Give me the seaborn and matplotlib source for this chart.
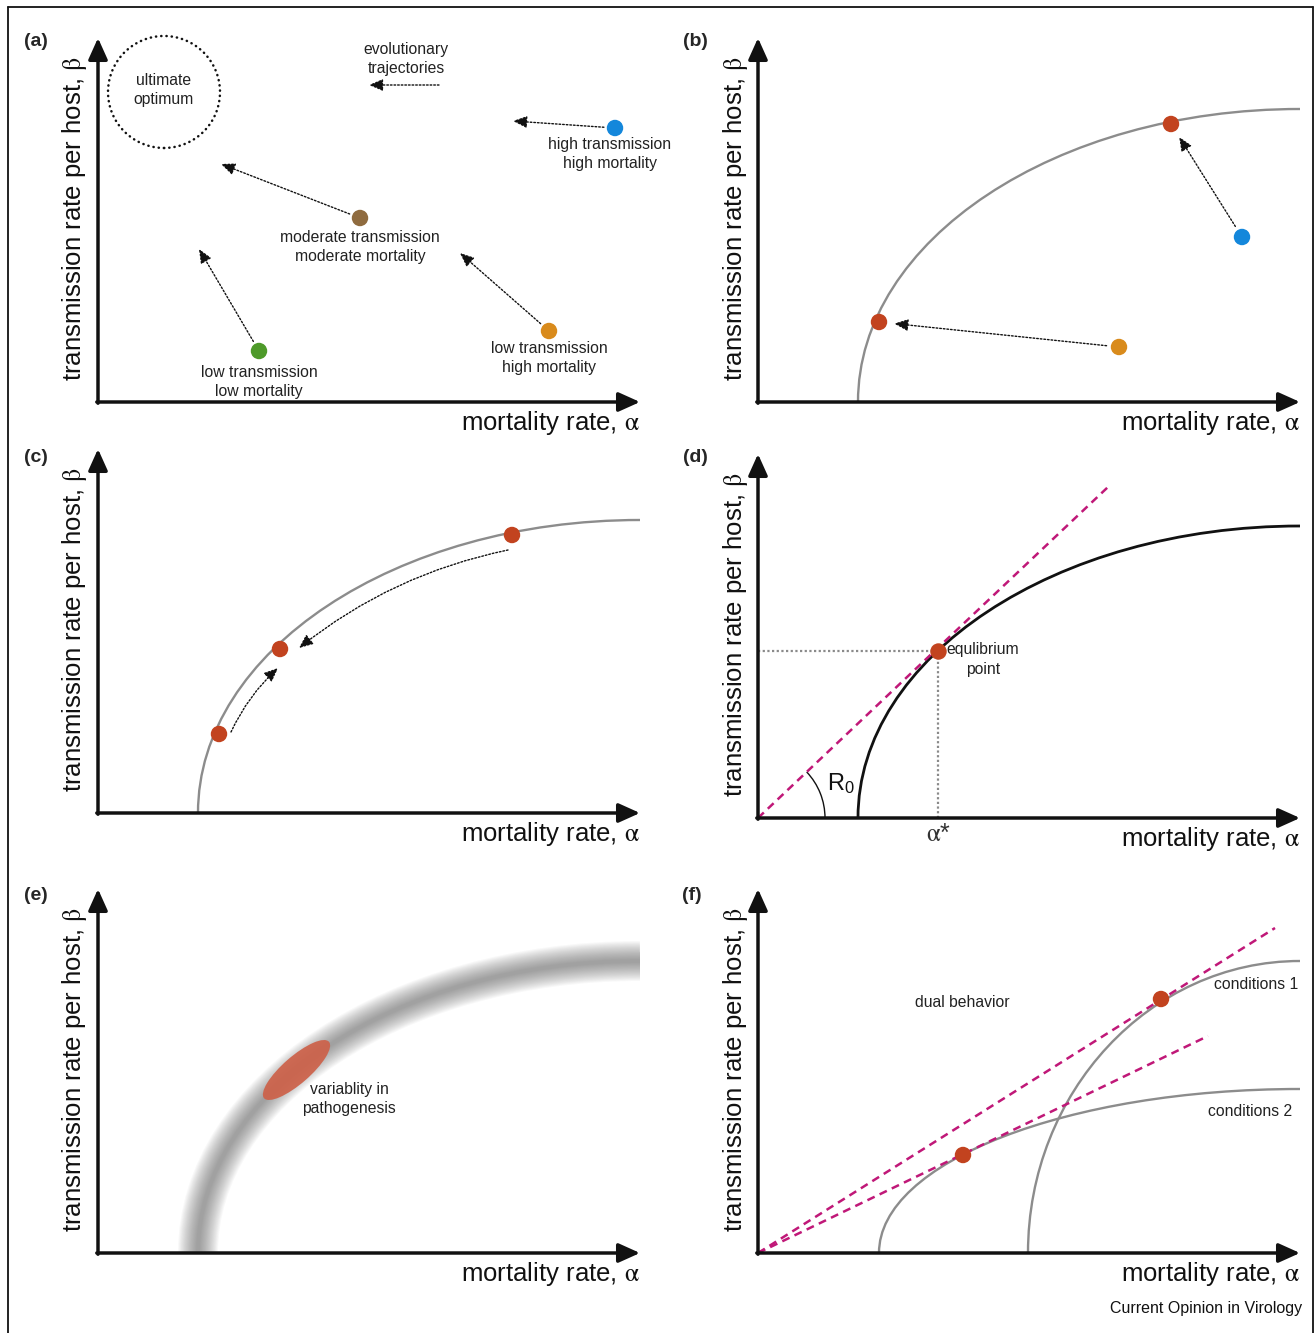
import numpy as np
import matplotlib.pyplot as plt
import seaborn as sns
from matplotlib.path import Path
from matplotlib.patches import PathPatch, Circle, Ellipse, Arc
from matplotlib.lines import Line2D

sns.set_theme(style='white')
plt.rcParams['font.family'] = ['Liberation Sans', 'DejaVu Sans']
plt.rcParams['mathtext.fontset'] = 'stix'

W, H = 1316, 1333

# ---- schematic values: mortality rate alpha (x) vs transmission beta (y) ----
# (a) starting strategies and the direction they evolve to
a_names = ['low transmission\nlow mortality', 'moderate transmission\nmoderate mortality',
           'low transmission\nhigh mortality', 'high transmission\nhigh mortality']
a_alpha = [1.61, 2.62, 4.51, 5.17]
a_beta = [0.51, 1.84, 0.71, 2.74]
a_to_alpha = [1.01, 1.23, 3.62, 4.15]
a_to_beta = [1.53, 2.38, 1.49, 2.81]
optimum_alpha, optimum_beta, optimum_r = 0.66, 3.10, 0.56

# trade-off curves (cubic bezier control points)
curve_main = [(1.00, 0.00), (1.00, 1.62), (2.98, 2.93), (5.42, 2.93)]
curve_d = [(1.00, 0.00), (1.00, 1.61), (2.98, 2.92), (5.42, 2.92)]
curve_f1 = [(2.70, 0.00), (2.70, 1.61), (3.92, 2.92), (5.42, 2.92)]
curve_f2 = [(1.21, 0.00), (1.21, 0.91), (3.10, 1.64), (5.42, 1.64)]

# (b) off-curve strains moving onto the curve
b_alpha = [4.84, 3.61]
b_beta = [1.65, 0.55]
b_end_alpha = [4.13, 1.21]
b_end_beta = [2.78, 0.80]

# (c) strains along the curve
c_alpha = [1.21, 1.82, 4.14]
c_beta = [0.79, 1.64, 2.78]

# (d) equilibrium and R0 line
d_eq_alpha, d_eq_beta = 1.80, 1.675
d_r0_alpha = [0.0, 3.50]
d_r0_beta = [0.0, 3.31]

# (e) variability patch
e_alpha, e_beta = 1.985, 1.83

# (f) two conditions
f_eq_alpha = [4.03, 2.05]
f_eq_beta = [2.54, 0.98]
f_r0_alpha = [[0.0, 5.17], [0.0, 4.50]]
f_r0_beta = [[0.0, 3.25], [0.0, 2.17]]

RED = '#c2431f'
MAG = '#c01878'
GREY = '#8c8c8c'
dot_cols = ['#4e9a2a', '#8f6b3f', '#d98b1c', '#1487db']

fig = plt.figure(figsize=(W / 100, H / 100), dpi=100)

origins = {'a': (98, 402), 'b': (758, 402), 'c': (98, 813),
           'd': (758, 818), 'e': (98, 1253), 'f': (758, 1253)}
tags = {'a': (36, 41), 'b': (695, 41), 'c': (36, 457),
        'd': (695, 457), 'e': (36, 895), 'f': (692, 895)}


def panel(key):
    x0, y0 = origins[key]
    ax = fig.add_axes([x0 / W, 1 - y0 / H, 542 / W, 364 / H])
    ax.set_xlim(0, 5.42)
    ax.set_ylim(0, 3.64)
    ax.axis('off')
    kw = dict(arrowstyle='-|>,head_length=1.0,head_width=0.45', lw=2.5, color='#111111',
              mutation_scale=13, shrinkA=0, shrinkB=0)
    ax.annotate('', xy=(5.42, 0), xytext=(-0.012, 0), arrowprops=kw, annotation_clip=False, zorder=5)
    ax.annotate('', xy=(0, 3.64), xytext=(0, -0.012), arrowprops=kw, annotation_clip=False, zorder=5)
    ax.text(-0.23, 1.83, r'transmission rate per host, $\mathrm{\beta}$', rotation=90, ha='center',
            va='center', fontsize=18.5, color='#111111')
    ax.text(5.42, -0.21, r'mortality rate, $\mathrm{\alpha}$', ha='right', va='center',
            fontsize=18.5, color='#111111')
    tx, ty = tags[key]
    fig.text(tx / W, 1 - ty / H, '(%s)' % key, fontsize=14, weight='bold', ha='center', va='center')
    return ax


def bezier(ax, pts, **kw):
    path = Path(pts, [Path.MOVETO, Path.CURVE4, Path.CURVE4, Path.CURVE4])
    ax.add_patch(PathPatch(path, fill=False, **kw))


def dotted_arrow(ax, start, end, rad=0.0):
    ax.annotate('', xy=end, xytext=start,
                arrowprops=dict(arrowstyle='-|>,head_length=0.7,head_width=0.3', mutation_scale=12,
                                lw=1.0, ls=(0, (1.2, 1.4)), color='#111111', shrinkA=0, shrinkB=0,
                                connectionstyle='arc3,rad=%s' % rad))


def dots(ax, x, y, cols):
    sns.scatterplot(x=x, y=y, hue=list(range(len(x))), palette=cols, s=140, linewidth=0,
                    legend=False, ax=ax, zorder=4, clip_on=False)


txt = dict(fontsize=11.3, ha='center', va='center', color='#222222', linespacing=1.35)

# ---------------- (a)
ax = panel('a')
ax.add_patch(Circle((optimum_alpha, optimum_beta), optimum_r, fill=False, lw=1.8,
                    ls=(0, (0.1, 2.0)), capstyle='round', color='#111111', clip_on=False))
ax.text(optimum_alpha, optimum_beta + 0.02, 'ultimate\noptimum', **txt)
ax.text(3.08, 3.43, 'evolutionary\ntrajectories', **txt)
dotted_arrow(ax, (3.41, 3.17), (2.71, 3.17))
for i in range(4):
    ax.annotate('', xy=(a_to_alpha[i], a_to_beta[i]), xytext=(a_alpha[i], a_beta[i]),
                arrowprops=dict(arrowstyle='-|>,head_length=0.7,head_width=0.3', mutation_scale=12,
                                lw=1.0, ls=(0, (1.2, 1.4)), color='#111111', shrinkA=8, shrinkB=0))
dots(ax, a_alpha, a_beta, dot_cols)
for name, x, y, dy in zip(a_names, a_alpha, a_beta, [0.31, 0.29, 0.27, 0.26]):
    ax.text(x + (0.0 if x < 5 else -0.05), y - dy, name, **txt)

# ---------------- (b)
ax = panel('b')
bezier(ax, curve_main, lw=1.7, edgecolor=GREY)
for sx, sy, ex, ey in zip(b_alpha, b_beta, b_end_alpha, b_end_beta):
    ax.annotate('', xy=(ex, ey), xytext=(sx, sy),
                arrowprops=dict(arrowstyle='-|>,head_length=0.7,head_width=0.3', mutation_scale=12,
                                lw=1.0, ls=(0, (1.2, 1.4)), color='#111111', shrinkA=9, shrinkB=11))
dots(ax, b_alpha, b_beta, ['#1487db', '#d98b1c'])
dots(ax, b_end_alpha, b_end_beta, [RED, RED])

# ---------------- (c)
ax = panel('c')
bezier(ax, curve_main, lw=1.7, edgecolor=GREY)
dotted_arrow(ax, (4.10, 2.63), (2.01, 1.65), rad=0.12)
dotted_arrow(ax, (1.33, 0.81), (1.80, 1.45), rad=-0.1)
dots(ax, c_alpha, c_beta, [RED] * 3)

# ---------------- (d)
ax = panel('d')
bezier(ax, curve_d, lw=2.0, edgecolor='#111111')
sns.lineplot(x=d_r0_alpha, y=d_r0_beta, color=MAG, lw=1.8, linestyle=(0, (3.2, 2.2)), ax=ax)
ax.plot([0, d_eq_alpha], [d_eq_beta, d_eq_beta], color='#8a8a8a', lw=1.6, ls=(0, (1, 1.1)))
ax.plot([d_eq_alpha, d_eq_alpha], [0, d_eq_beta], color='#8a8a8a', lw=1.6, ls=(0, (1, 1.1)))
ang = np.degrees(np.arctan2(d_r0_beta[1], d_r0_alpha[1]))
ax.add_patch(Arc((0, 0), 1.34, 1.34, theta1=0, theta2=ang, lw=1.0, color='#111111'))
ax.text(0.83, 0.34, r'R$_\mathregular{0}$', fontsize=17, ha='center', va='center', color='#111111')
ax.text(d_eq_alpha, -0.16, r'$\mathrm{\alpha}$*', fontsize=18, ha='center', va='center',
        color='#333333')
ax.text(2.25, 1.585, 'equlibrium\npoint', **txt)
dots(ax, [d_eq_alpha], [d_eq_beta], [RED])

# ---------------- (e)
ax = panel('e')
band = [(1.00, 0.00), (1.00, 1.61), (2.98, 2.92), (5.42, 2.92)]
for w in np.linspace(40, 4, 18):
    bezier(ax, band, lw=w * 0.72, edgecolor='#555555', alpha=0.04, capstyle='butt')
ax.add_patch(Ellipse((e_alpha, e_beta), 0.86, 0.27, angle=41, facecolor='#cd6149', edgecolor='none',
                     alpha=0.92, zorder=4))
ax.text(2.51, 1.54, 'variablity in\npathogenesis', **txt)

# ---------------- (f)
ax = panel('f')
bezier(ax, curve_f1, lw=1.7, edgecolor=GREY)
bezier(ax, curve_f2, lw=1.7, edgecolor=GREY)
for xs, ys in zip(f_r0_alpha, f_r0_beta):
    sns.lineplot(x=xs, y=ys, color=MAG, lw=1.8, linestyle=(0, (3.2, 2.2)), ax=ax)
dots(ax, f_eq_alpha, f_eq_beta, [RED, RED])
ax.text(2.04, 2.51, 'dual behavior', **txt)
ax.text(4.98, 2.69, 'conditions 1', **txt)
ax.text(4.92, 1.41, 'conditions 2', **txt)

fig.text(1302 / W, 1 - 1309 / H, 'Current Opinion in Virology', fontsize=11.5, ha='right',
         va='center', color='#111111')

# outer frame (open at the bottom)
fr = dict(transform=fig.transFigure, color='#111111', lw=1.3)
fig.add_artist(Line2D([7.5 / W, 7.5 / W], [0, 1 - 6.5 / H], **fr))
fig.add_artist(Line2D([7.5 / W, 1313 / W], [1 - 6.5 / H, 1 - 6.5 / H], **fr))
fig.add_artist(Line2D([1313 / W, 1313 / W], [0, 1 - 6.5 / H], **fr))

fig.savefig('out.png', dpi=100)
